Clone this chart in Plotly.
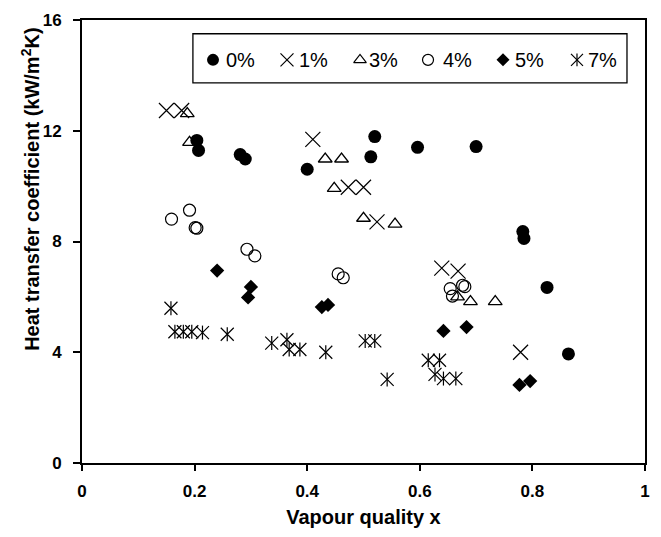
import plotly.graph_objects as go

# ---- data (vapour quality x, heat transfer coefficient kW/m2K) ----
x_0 = [0.204, 0.207, 0.281, 0.290, 0.400, 0.513, 0.520, 0.596, 0.700, 0.783, 0.785, 0.826, 0.864]
y_0 = [11.65, 11.29, 11.14, 10.98, 10.61, 11.06, 11.79, 11.40, 11.43, 8.36, 8.11, 6.34, 3.94]

x_1 = [0.150, 0.177, 0.410, 0.473, 0.500, 0.524, 0.639, 0.668, 0.779]
y_1 = [12.73, 12.73, 11.69, 9.96, 9.96, 8.71, 7.04, 6.93, 4.00]

x_3 = [0.187, 0.191, 0.432, 0.461, 0.448, 0.500, 0.556, 0.667, 0.690, 0.734]
y_3 = [12.62, 11.58, 10.98, 10.98, 9.92, 8.84, 8.63, 6.00, 5.83, 5.83]

x_4 = [0.159, 0.191, 0.201, 0.204, 0.293, 0.307, 0.455, 0.464, 0.654, 0.658, 0.676, 0.680]
y_4 = [8.81, 9.13, 8.50, 8.48, 7.72, 7.48, 6.83, 6.69, 6.30, 6.03, 6.42, 6.37]

x_5 = [0.240, 0.300, 0.295, 0.426, 0.437, 0.642, 0.683, 0.777, 0.796]
y_5 = [6.95, 6.36, 5.98, 5.63, 5.71, 4.77, 4.91, 2.82, 2.96]

x_7 = [0.158, 0.165, 0.180, 0.195, 0.214, 0.258, 0.337, 0.364, 0.368, 0.387, 0.433,
       0.503, 0.520, 0.542, 0.615, 0.635, 0.627, 0.642, 0.664]
y_7 = [5.59, 4.74, 4.74, 4.74, 4.71, 4.65, 4.33, 4.45, 4.10, 4.10, 4.00,
       4.41, 4.41, 3.02, 3.71, 3.71, 3.20, 3.05, 3.05]

series_names = ["0%", "1%", "3%", "4%", "5%", "7%"]
x_ticks = [0, 0.2, 0.4, 0.6, 0.8, 1]
x_tick_labels = ["0", "0.2", "0.4", "0.6", "0.8", "1"]
y_ticks = [0, 4, 8, 12, 16]

FONT = "Arial, Liberation Sans, sans-serif"
BLACK = "black"

# marker styles per series: list of (symbol, size, line width)
styles = {
    "0%": [("circle", 13, 0)],
    "1%": [("x-thin", 15, 1.2)],
    "3%": [("triangle-up-open", 12, 1.3)],
    "4%": [("circle-open", 12, 1.2)],
    "5%": [("diamond", 11, 0)],
    "7%": [("x-thin", 13, 1.2), ("line-ns", 10, 1.2)],
}
legend_styles = {
    "0%": [("circle", 12, 0)],
    "1%": [("x-thin", 13, 1.2)],
    "3%": [("triangle-up-open", 11, 1.2)],
    "4%": [("circle-open", 11, 1.2)],
    "5%": [("diamond", 10, 0)],
    "7%": [("x-thin", 12, 1.2), ("line-ns", 9, 1.2)],
}
data = {"0%": (x_0, y_0), "1%": (x_1, y_1), "3%": (x_3, y_3),
        "4%": (x_4, y_4), "5%": (x_5, y_5), "7%": (x_7, y_7)}

fig = go.Figure()
for name in series_names:
    xs, ys = data[name]
    for sym, size, lw in styles[name]:
        fig.add_trace(go.Scatter(
            x=xs, y=ys, mode="markers", name=name, showlegend=False,
            marker=dict(symbol=sym, size=size, color=BLACK,
                        line=dict(color=BLACK, width=lw)),
            hoverinfo="x+y+name"))

# ---- manual legend (keys on an overlay axis spanning the plot area) ----
leg_key_x = [0.2327, 0.3641, 0.4938, 0.6146, 0.7478, 0.8792]
leg_text_x = [0.252, 0.381, 0.507, 0.638, 0.765, 0.896]
leg_y = 0.910
for i, name in enumerate(series_names):
    for sym, size, lw in legend_styles[name]:
        fig.add_trace(go.Scatter(
            x=[leg_key_x[i]], y=[leg_y], xaxis="x2", yaxis="y2", mode="markers",
            showlegend=False, hoverinfo="skip",
            marker=dict(symbol=sym, size=size, color=BLACK,
                        line=dict(color=BLACK, width=lw))))
    fig.add_annotation(x=leg_text_x[i], y=leg_y, xref="paper", yref="paper",
                       text=name, showarrow=False, xanchor="left", yanchor="middle",
                       font=dict(family=FONT, size=20, color=BLACK))

fig.add_shape(type="rect", xref="paper", yref="paper", x0=0.197, x1=0.968,
              y0=0.858, y1=0.969, line=dict(color=BLACK, width=1.3),
              fillcolor="white", layer="below")

# y-axis title (placed like the original, slightly above the axis centre)
fig.add_annotation(x=-0.092, y=0.617, xref="paper", yref="paper",
                   text="<b>Heat transfer coefficient (kW/m<sup>2</sup>K)</b>",
                   textangle=-90, showarrow=False, xanchor="center", yanchor="middle",
                   font=dict(family=FONT, size=20, color=BLACK))

fig.update_layout(
    width=661, height=537,
    margin=dict(l=82, r=16, t=11, b=74),
    plot_bgcolor="white", paper_bgcolor="white",
    font=dict(family=FONT, color=BLACK),
    xaxis=dict(range=[0, 1], tickvals=x_ticks, ticktext=x_tick_labels,
               showgrid=False, zeroline=False, showline=True, linecolor=BLACK,
               linewidth=2, mirror=True, ticks="outside", ticklen=6, tickwidth=1.5,
               tickcolor=BLACK, ticklabelstandoff=6,
               tickfont=dict(family=FONT, size=17, color=BLACK, weight="bold"),
               title=dict(text="<b>Vapour quality x</b>", standoff=10,
                          font=dict(family=FONT, size=20, color=BLACK))),
    yaxis=dict(range=[0, 16], tickvals=y_ticks, showgrid=False, zeroline=False,
               showline=True, linecolor=BLACK, linewidth=2, mirror=True,
               ticks="outside", ticklen=7, tickwidth=1.5, tickcolor=BLACK,
               ticklabelstandoff=8,
               tickfont=dict(family=FONT, size=17, color=BLACK, weight="bold")),
    xaxis2=dict(range=[0, 1], overlaying="x", visible=False),
    yaxis2=dict(range=[0, 1], overlaying="y", visible=False),
)

fig.write_html("out.html")
